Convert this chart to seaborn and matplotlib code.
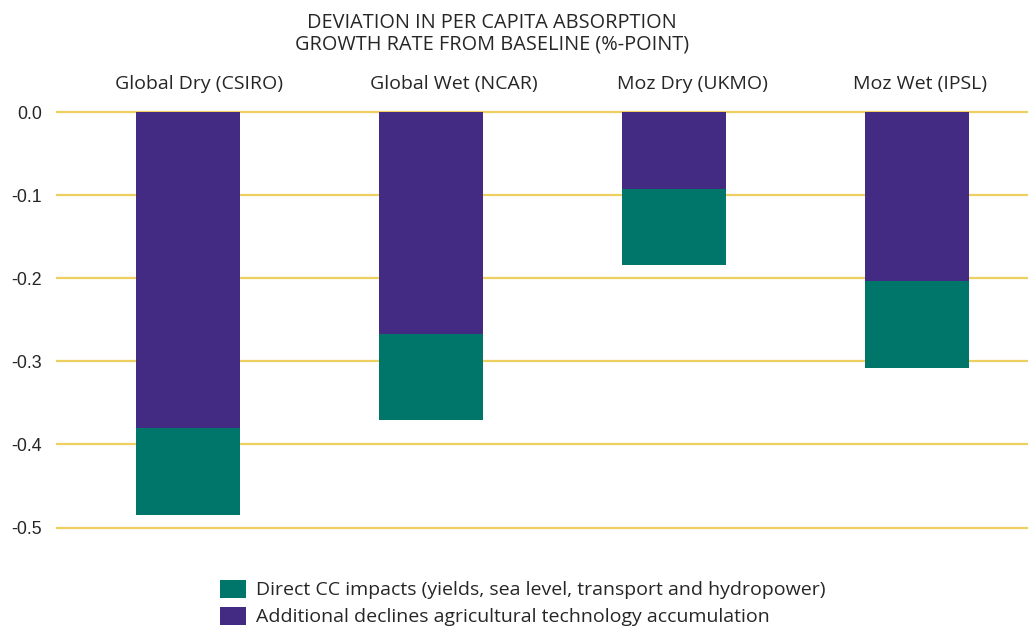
import matplotlib
matplotlib.use("Agg")
import matplotlib.pyplot as plt
import matplotlib.transforms as mtransforms
from matplotlib.patches import Patch
import seaborn as sns
import pandas as pd

# Scenario labels and the two stacked components (percentage points, shown as declines)
scenarios = ["Global Dry (CSIRO)", "Global Wet (NCAR)", "Moz Dry (UKMO)", "Moz Wet (IPSL)"]
additional_declines = [-0.380, -0.267, -0.092, -0.203]
direct_cc = [-0.105, -0.103, -0.092, -0.105]
y_ticks = [0.0, -0.1, -0.2, -0.3, -0.4, -0.5]

title = "DEVIATION IN PER CAPITA ABSORPTION\nGROWTH RATE FROM BASELINE (%-POINT)"
label_direct = "Direct CC impacts (yields, sea level, transport and hydropower)"
label_additional = "Additional declines agricultural technology accumulation"

purple = "#432A83"
teal = "#00756A"
grid_col = "#EDD060"

df = pd.DataFrame({
    "scenario": scenarios,
    "additional": additional_declines,
    "total": [a + d for a, d in zip(additional_declines, direct_cc)],
})

sns.set_theme(style="white")
plt.rcParams["font.family"] = ["Open Sans", "DejaVu Sans"]

W, H = 1028, 627
DPI = 100
fig = plt.figure(figsize=(W / DPI, H / DPI), dpi=DPI)

# axes geometry in pixels
px_per_unit = 830.0
y0_px = 112.5
ylim = (-0.55, 0.01)
x_left_px, x_right_px = 56, 1028
cat_step = 243.0
first_cat_px = 188.0
xlim = (-(first_cat_px - x_left_px) / cat_step, (x_right_px - first_cat_px) / cat_step)

top_px = y0_px - ylim[1] * px_per_unit
bot_px = y0_px - ylim[0] * px_per_unit
ax = fig.add_axes([x_left_px / W, 1 - bot_px / H, (x_right_px - x_left_px) / W, (bot_px - top_px) / H])

# full stack first (teal), then the upper purple segment over it
sns.barplot(data=df, x="scenario", y="total", color=teal, width=0.43,
            saturation=1, linewidth=0, ax=ax, zorder=3)
sns.barplot(data=df, x="scenario", y="additional", color=purple, width=0.43,
            saturation=1, linewidth=0, ax=ax, zorder=4)

ax.set_xlim(*xlim)
ax.set_ylim(*ylim)
ax.set_yticks(y_ticks)
ax.set_yticklabels([f"{v:.1f}" for v in y_ticks], fontfamily="Liberation Sans", fontsize=12.8)
ax.yaxis.grid(True, color=grid_col, linewidth=1.6, zorder=0)
ax.xaxis.grid(False)
ax.set_axisbelow(True)

ax.xaxis.tick_top()
ax.set_xticks(range(len(scenarios)))
ax.set_xticklabels(scenarios, fontsize=14)
ax.tick_params(axis="x", length=0, pad=8)
ax.tick_params(axis="y", length=0, pad=10)
ax.set_xlabel("")
ax.set_ylabel("")
for s in ax.spines.values():
    s.set_visible(False)

# column headers sit slightly right of their bar centres
header_shift_px = [11, 23, 18, 3]
for tick, dx in zip(ax.xaxis.get_major_ticks(), header_shift_px):
    lbl = tick.label2
    lbl.set_transform(lbl.get_transform() + mtransforms.ScaledTranslation(dx / DPI, 0, fig.dpi_scale_trans))

fig.text(492 / W, 1 - 34 / H, title, ha="center", va="center", fontsize=14.3,
         linespacing=1.12)

handles = [Patch(facecolor=teal, edgecolor="none", label=label_direct),
           Patch(facecolor=purple, edgecolor="none", label=label_additional)]
fig.legend(handles=handles, loc="upper left", bbox_to_anchor=(212 / W, 1 - 572 / H),
           frameon=False, fontsize=14, handlelength=1.35, handleheight=1.05,
           handletextpad=0.5, labelspacing=0.38, borderaxespad=0)

fig.savefig("out.png", dpi=DPI)
